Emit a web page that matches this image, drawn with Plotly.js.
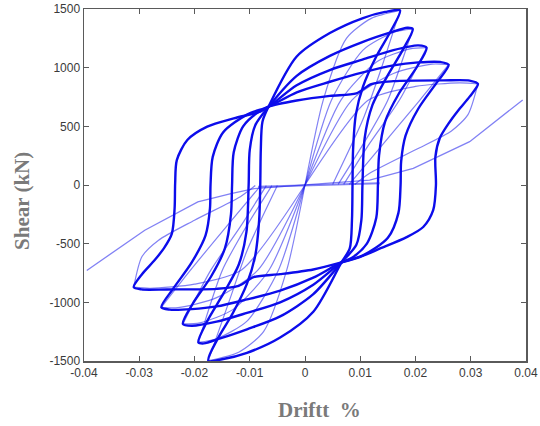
<!DOCTYPE html>
<html>
<head>
<meta charset="utf-8">
<script src="https://cdn.plot.ly/plotly-3.0.1.min.js"></script>
<style>html,body{margin:0;padding:0;background:#fff;}#chart{width:540px;height:426px;}</style>
</head>
<body>
<div id="chart"></div>
<script>
// ---- Axis ticks ----
const xTickVals = [-0.04, -0.03, -0.02, -0.01, 0, 0.01, 0.02, 0.03, 0.04];
const xTickText = ["-0.04", "-0.03", "-0.02", "-0.01", "0", "0.01", "0.02", "0.03", "0.04"];
const yTickVals = [-1500, -1000, -500, 0, 500, 1000, 1500];
const yTickText = ["-1500", "-1000", "-500", "0", "500", "1000", "1500"];
const xTitle = "Driftt\u00a0\u00a0%";
const yTitle = "Shear (kN)";

// ---- Thick hysteresis loops (drift, shear kN), each closed at its positive zero crossing ----
const loop1X = [0.0086,0.0085,0.0081,0.0066, 0.0015,-0.0045,-0.0105,-0.0150,-0.0175, -0.0158,-0.0131,-0.0105,-0.0090,-0.0083,-0.0081,-0.0080,-0.0077,-0.0066, -0.0015,0.0045,0.0105,0.0145,0.0172, 0.0155,0.0129,0.0105,0.0092,0.0087,0.0086];
const loop1Y = [0,-300,-540,-660, -1080,-1300,-1430,-1485,-1497, -1310,-1095,-840,-600,-300,0,300,540,667, 1095,1295,1423,1475,1488, 1310,1095,838,600,300,0];

const loop2X = [0.0104,0.0102,0.0093,0.0066, 0.0015,-0.0045,-0.0105,-0.0155,-0.0183,-0.0193, -0.0177,-0.0147,-0.0120,-0.0106,-0.0102,-0.0100,-0.0090,-0.0066, -0.0015,0.0045,0.0105,0.0155,0.0185,0.0195, 0.0178,0.0148,0.0122,0.0108,0.0104];
const loop2Y = [0,-300,-510,-660, -930,-1120,-1230,-1310,-1350,-1341, -1160,-920,-680,-400,0,300,510,667, 930,1100,1220,1300,1340,1330, 1160,920,680,400,0];

const loop3X = [0.0132,0.0129,0.0112,0.0085,0.0066, 0.0015,-0.0045,-0.0105,-0.0160,-0.0205,-0.0221, -0.0203,-0.0170,-0.0145,-0.0134,-0.0132,-0.0129,-0.0112,-0.0085,-0.0066, -0.0015,0.0045,0.0105,0.0160,0.0205,0.0220, 0.0203,0.0170,0.0145,0.0134,0.0132];
const loop3Y = [0,-280,-500,-620,-660, -850,-1000,-1090,-1165,-1200,-1184, -1010,-780,-540,-250,0,280,500,620,667, 850,980,1070,1150,1190,1170, 1010,780,540,250,0];

const loop4X = [0.0173,0.0169,0.0150,0.0105,0.0066, 0.0015,-0.0045,-0.0105,-0.0160,-0.0205,-0.0245,-0.0260, -0.0238,-0.0205,-0.0180,-0.0172,-0.0171,-0.0167,-0.0148,-0.0105,-0.0066, -0.0015,0.0045,0.0105,0.0160,0.0205,0.0245,0.0260, 0.0238,0.0205,0.0182,0.0174,0.0173];
const loop4Y = [0,-240,-450,-600,-660, -790,-900,-975,-1035,-1058,-1062,-1042, -880,-660,-430,-200,0,240,450,600,667, 790,880,960,1020,1045,1048,1025, 870,650,420,200,0];

const loop5X = [0.0237,0.0232,0.0214,0.0184,0.0135,0.0099,0.0066, 0.0015,-0.0045,-0.0093,-0.0120,-0.0160,-0.0250,-0.0296,-0.0310, -0.0295,-0.0272,-0.0254,-0.0241,-0.0236,-0.0235,-0.0232,-0.0213,-0.0177,-0.0129,-0.0081,-0.0066, -0.0015,0.0045,0.0093,0.0120,0.0160,0.0250,0.0298,0.0313, 0.0298,0.0278,0.0260,0.0244,0.0236,0.0237];
const loop5Y = [0,-215,-358,-444,-543,-614,-660, -720,-760,-785,-860,-885,-890,-890,-871, -760,-640,-530,-415,-200,15,212,383,497,568,625,667, 720,760,780,860,885,892,890,862, 753,640,525,400,240,0];

// ---- Thin pinched cycles ----
const thinSteepX = [
  [0,0.0033,0.0075,0.0120,0.0172], [0,0.0048,0.0105,0.0160,0.0195], [0,0.0065,0.0130,0.0190,0.0220],
  [0,0.0085,0.0160,0.0230,0.0260], [0,0.0115,0.0200,0.0280,0.0313],
  [0,-0.0033,-0.0075,-0.0120,-0.0175], [0,-0.0048,-0.0105,-0.0160,-0.0193], [0,-0.0065,-0.0130,-0.0190,-0.0221],
  [0,-0.0085,-0.0160,-0.0230,-0.0260], [0,-0.0115,-0.0200,-0.0280,-0.0310]
];
const thinSteepY = [
  [0,724,1250,1420,1488], [0,724,1150,1300,1330], [0,724,1050,1160,1170],
  [0,724,950,1030,1025], [0,724,840,870,862],
  [0,-724,-1250,-1425,-1497], [0,-724,-1160,-1310,-1341], [0,-724,-1060,-1175,-1184],
  [0,-724,-960,-1045,-1042], [0,-724,-845,-880,-871]
];
const thinShallowX = [
  [0.005,0.0105,0.0135,0.0172], [0.006,0.0117,0.0150,0.0195], [0.007,0.0117,0.0171,0.0220],
  [0.008,0.0117,0.0208,0.0260], [0.009,0.0117,0.0200,0.0265,0.0295,0.0313],
  [-0.005,-0.0105,-0.0135,-0.0175], [-0.006,-0.0117,-0.0150,-0.0193], [-0.007,-0.0117,-0.0171,-0.0221],
  [-0.008,-0.0117,-0.0208,-0.0260], [-0.009,-0.0117,-0.0200,-0.0265,-0.0295,-0.0310]
];
const thinShallowY = [
  [5,560,950,1488], [5,440,724,1330], [5,355,724,1170],
  [5,212,724,1025], [5,100,300,460,600,862],
  [-5,-560,-960,-1497], [-5,-440,-730,-1341], [-5,-355,-730,-1184],
  [-5,-212,-730,-1042], [-5,-100,-300,-470,-610,-871]
];
const slipX = [-0.0085,-0.004,0,0.006,0.0135];
const slipY = [-14,-8,0,8,14];
const longX = [-0.0395,-0.029,-0.0194,-0.0134,-0.0092,0,0.0117,0.0196,0.0298,0.0394];
const longY = [-728,-386,-144,-73,-30,0,41,141,369,725];

const thickColor = 'rgb(12,12,235)';
const thinColor = 'rgba(25,25,235,0.55)';
const traces = [];
thinSteepX.forEach((xs, i) => traces.push({x: xs, y: thinSteepY[i], mode: 'lines', line: {color: thinColor, width: 1.2, shape: 'spline', smoothing: 0.7}, hoverinfo: 'skip'}));
thinShallowX.forEach((xs, i) => traces.push({x: xs, y: thinShallowY[i], mode: 'lines', line: {color: thinColor, width: 1.2, shape: 'spline', smoothing: 0.7}, hoverinfo: 'skip'}));
traces.push({x: slipX, y: slipY, mode: 'lines', line: {color: thinColor, width: 2}});
traces.push({x: longX, y: longY, mode: 'lines', line: {color: thinColor, width: 1.3}});
[[loop1X, loop1Y], [loop2X, loop2Y], [loop3X, loop3Y], [loop4X, loop4Y], [loop5X, loop5Y]].forEach(([xs, ys]) =>
  traces.push({x: xs, y: ys, mode: 'lines', line: {color: thickColor, width: 2.4, shape: 'spline', smoothing: 0.8}}));

const titleFont = {family: 'Liberation Serif, Times New Roman, serif', size: 21, weight: 'bold', color: '#7a7a7a'};
const axisCommon = {
  showgrid: false, zeroline: false, showline: true, linecolor: '#5a5a5a', linewidth: 1.5,
  mirror: 'allticks', ticks: 'inside', ticklen: 5, tickcolor: '#5a5a5a', tickwidth: 1,
  tickfont: {family: 'Liberation Sans, Arial, sans-serif', size: 12, color: '#3a3a3a'}
};
const layout = {
  width: 540, height: 426,
  margin: {l: 84, r: 14, t: 9, b: 65},
  paper_bgcolor: '#fff', plot_bgcolor: '#fff',
  showlegend: false,
  xaxis: Object.assign({}, axisCommon, {range: [-0.04, 0.04], tickmode: 'array', tickvals: xTickVals, ticktext: xTickText}),
  yaxis: Object.assign({}, axisCommon, {range: [-1500, 1500], tickmode: 'array', tickvals: yTickVals, ticktext: yTickText}),
  annotations: [
    {text: xTitle, xref: 'paper', yref: 'paper', x: 0.533, y: -0.139, xanchor: 'center', yanchor: 'middle', showarrow: false, font: titleFont},
    {text: yTitle, xref: 'paper', yref: 'paper', x: -0.140, y: 0.455, xanchor: 'center', yanchor: 'middle', textangle: -90, showarrow: false, font: titleFont}
  ]
};
Plotly.newPlot('chart', traces, layout, {displayModeBar: false, staticPlot: true});
</script>
</body>
</html>
